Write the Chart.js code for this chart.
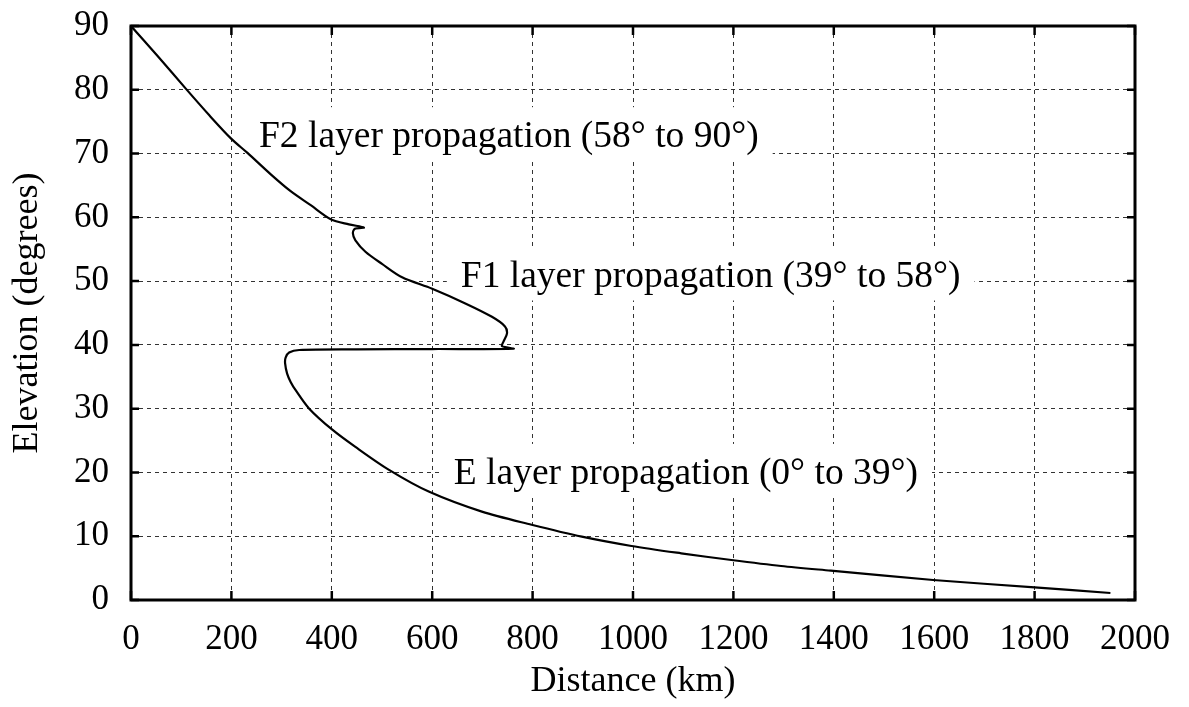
<!DOCTYPE html>
<html>
<head>
<meta charset="utf-8">
<title>Elevation vs distance</title>
<script src="https://cdn.jsdelivr.net/npm/chart.js@4.4.1/dist/chart.umd.min.js"></script>
<style>
  html, body { margin: 0; padding: 0; background: #fff; }
  #wrap { width: 1189px; height: 707px; }
</style>
</head>
<body>
<div id="wrap"><canvas id="elevChart" width="1189" height="707"></canvas></div>
<script>
// curve: distance (km) and elevation (degrees), in drawing order
const distanceKm = [0, 53, 110, 156, 200, 232, 279, 318, 358, 398,
    434, 464, 446, 442, 447, 467, 500, 540, 600, 666,
    719, 745, 749, 742, 739, 762, 600, 450, 335, 315,
    308, 307, 311, 318, 328, 355, 401, 447, 514, 593,
    699, 798, 898, 997, 1096, 1196, 1295, 1394, 1598, 1800, 1951];
const elevationDeg = [90, 85.3, 80.1, 76.0, 72.3, 70.1, 66.7, 64.1, 61.9, 59.7,
    58.9, 58.4, 58.2, 57.5, 56.4, 54.6, 52.7, 50.6, 48.8, 46.5,
    44.4, 42.9, 41.8, 40.5, 39.8, 39.4, 39.35, 39.3, 39.2, 38.8,
    38.0, 37.1, 35.5, 34.2, 32.9, 30.0, 26.7, 24.0, 20.4, 17.0,
    13.85, 11.8, 9.93, 8.47, 7.32, 6.27, 5.33, 4.6, 3.14, 1.99, 1.1];

// axis ticks
const xTickValues = [0, 200, 400, 600, 800, 1000, 1200, 1400, 1600, 1800, 2000];
const yTickValues = [0, 10, 20, 30, 40, 50, 60, 70, 80, 90];

// labels inside the plot (left edge km, baseline degrees)
const layerLabels = ['F2 layer propagation (58° to 90°)', 'F1 layer propagation (39° to 58°)', 'E layer propagation (0° to 39°)'];
const labelDistance = [255, 657, 643];
const labelElevation = [71.0, 49.0, 18.2];

const serif = '"Liberation Serif", "Times New Roman", serif';
const points = distanceKm.map((d, i) => ({ x: d, y: elevationDeg[i] }));

// white box + text, drawn after grid but before the curve
const layerLabelPlugin = {
    id: 'layerLabels',
    beforeDatasetsDraw(chart) {
        const ctx = chart.ctx;
        const xs = chart.scales.x, ys = chart.scales.y;
        ctx.save();
        ctx.font = '37.5px ' + serif;
        ctx.textBaseline = 'alphabetic';
        ctx.textAlign = 'left';
        layerLabels.forEach((txt, i) => {
            const px = xs.getPixelForValue(labelDistance[i]);
            const py = ys.getPixelForValue(labelElevation[i]);
            const w = ctx.measureText(txt).width;
            ctx.fillStyle = '#fff';
            ctx.fillRect(px - 14, py - 40, w + 28, 53);
            ctx.fillStyle = '#000';
            ctx.fillText(txt, px, py);
        });
        ctx.restore();
    }
};

// frame and inward tick marks on all four sides
const framePlugin = {
    id: 'frame',
    afterDraw(chart) {
        const ctx = chart.ctx;
        const a = chart.chartArea;
        ctx.save();
        ctx.strokeStyle = '#000';
        ctx.lineWidth = 2.5;
        ctx.beginPath();
        xTickValues.forEach(v => {
            const px = chart.scales.x.getPixelForValue(v);
            ctx.moveTo(px, a.bottom); ctx.lineTo(px, a.bottom - 9);
            ctx.moveTo(px, a.top); ctx.lineTo(px, a.top + 9);
        });
        yTickValues.forEach(v => {
            const py = chart.scales.y.getPixelForValue(v);
            ctx.moveTo(a.left, py); ctx.lineTo(a.left + 8, py);
            ctx.moveTo(a.right, py); ctx.lineTo(a.right - 8, py);
        });
        ctx.stroke();
        ctx.lineWidth = 3;
        ctx.strokeRect(a.left, a.top, a.right - a.left, a.bottom - a.top);
        ctx.restore();
    }
};

const config = {
    type: 'scatter',
    data: {
        datasets: [{
            label: 'Elevation',
            data: points,
            showLine: true,
            borderColor: '#000',
            borderWidth: 2.2,
            pointRadius: 0,
            tension: 0.3,
            fill: false
        }]
    },
    options: {
        responsive: false,
        animation: false,
        layout: { padding: { top: 26, right: 51, left: 0, bottom: 0 } },
        plugins: { legend: { display: false }, tooltip: { enabled: false } },
        scales: {
            x: {
                type: 'linear', min: 0, max: 2000,
                afterBuildTicks: s => { s.ticks = xTickValues.map(v => ({ value: v })); },
                afterFit: s => { s.height = 107; },
                grid: { color: '#333', lineWidth: 1, drawTicks: false },
                border: { display: false, dash: [4, 4] },
                ticks: { color: '#000', font: { family: serif, size: 35 }, padding: 19, maxRotation: 0, callback: v => String(v) },
                title: { display: true, text: 'Distance (km)', color: '#000', font: { family: serif, size: 36 }, padding: { top: 0, bottom: 4 } }
            },
            y: {
                type: 'linear', min: 0, max: 90,
                afterBuildTicks: s => { s.ticks = yTickValues.map(v => ({ value: v })); },
                afterFit: s => { s.width = 131; },
                // invisible outer tick marks give the gap between labels and axis
                grid: { color: '#333', lineWidth: 1, drawTicks: true, tickLength: 22, tickColor: 'rgba(0,0,0,0)' },
                border: { display: false, dash: [4, 4] },
                ticks: { color: '#000', font: { family: serif, size: 35 }, padding: 0, callback: v => String(v) },
                title: { display: true, text: 'Elevation (degrees)', color: '#000', font: { family: serif, size: 36 }, padding: { top: 6, bottom: 0 } }
            }
        }
    },
    plugins: [layerLabelPlugin, framePlugin]
};

new Chart(document.getElementById('elevChart'), config);
</script>
</body>
</html>
